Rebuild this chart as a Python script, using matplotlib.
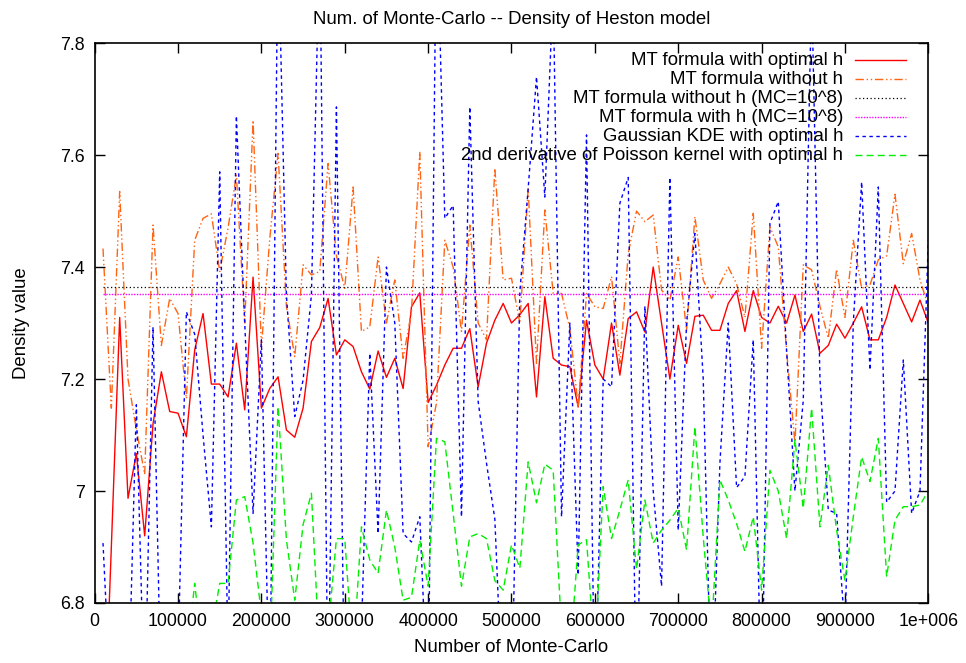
import matplotlib
matplotlib.use("Agg")
import matplotlib.pyplot as plt
from matplotlib.lines import Line2D

plt.rcParams['font.family'] = ['Liberation Sans', 'DejaVu Sans']

mc_sizes = list(range(10000, 1000001, 10000))

mt_opt_h = [6.5, 6.9, 7.31, 6.987, 7.067, 6.92, 7.12, 7.213, 7.142, 7.139,
            7.097, 7.252, 7.317, 7.191, 7.191, 7.168, 7.264, 7.145, 7.382, 7.148,
            7.183, 7.204, 7.109, 7.096, 7.148, 7.267, 7.292, 7.344, 7.243, 7.27,
            7.258, 7.213, 7.182, 7.25, 7.203, 7.237, 7.183, 7.329, 7.354, 7.158,
            7.189, 7.225, 7.255, 7.255, 7.29, 7.186, 7.264, 7.305, 7.335, 7.30,
            7.315, 7.335, 7.168, 7.347, 7.237, 7.225, 7.222, 7.15, 7.305, 7.225,
            7.2, 7.3, 7.207, 7.308, 7.32, 7.284, 7.4, 7.30, 7.2, 7.296,
            7.228, 7.312, 7.314, 7.287, 7.287, 7.335, 7.358, 7.285, 7.358, 7.31,
            7.3, 7.33, 7.3, 7.35, 7.285, 7.316, 7.246, 7.26, 7.298, 7.273,
            7.3, 7.329, 7.27, 7.27, 7.31, 7.368, 7.335, 7.302, 7.341, 7.3]

mt_no_h = [7.433, 7.148, 7.535, 7.2, 7.11, 7.03, 7.475, 7.26, 7.344, 7.317,
           7.165, 7.448, 7.487, 7.495, 7.392, 7.47, 7.564, 7.3, 7.662, 7.257,
           7.45, 7.603, 7.33, 7.24, 7.404, 7.386, 7.392, 7.585, 7.42, 7.362,
           7.543, 7.285, 7.293, 7.418, 7.3, 7.377, 7.237, 7.32, 7.606, 7.079,
           7.157, 7.448, 7.4, 7.285, 7.475, 7.3, 7.27, 7.576, 7.377, 7.38,
           7.3, 7.54, 7.228, 7.502, 7.353, 7.353, 7.29, 7.15, 7.353, 7.329,
           7.326, 7.383, 7.228, 7.424, 7.5, 7.481, 7.493, 7.359, 7.341, 7.418,
           7.287, 7.49, 7.377, 7.344, 7.37, 7.4, 7.37, 7.31, 7.496, 7.255,
           7.472, 7.436, 7.25, 7.085, 7.404, 7.395, 7.33, 7.273, 7.396, 7.31,
           7.448, 7.362, 7.368, 7.413, 7.42, 7.53, 7.406, 7.46, 7.377, 7.33]

mt_no_h_1e8 = 7.365
mt_h_1e8 = 7.352

gauss_kde = [6.907, 6.6, 6.5, 6.6, 7.154, 6.6, 7.293, 6.6, 6.7, 6.7,
             7.32, 7.28, 7.1, 6.936, 7.57, 6.7, 7.67, 7.3, 6.96, 7.27,
             6.6, 8.0, 7.35, 7.133, 7.198, 7.35, 8.0, 6.6, 7.686, 6.6,
             6.6, 6.75, 7.246, 6.924, 7.4, 7.3, 6.924, 6.909, 6.954, 6.6,
             8.05, 7.487, 7.51, 6.954, 7.686, 7.16, 7.05, 6.95, 6.6, 6.6,
             7.355, 7.54, 7.74, 7.525, 7.9, 6.954, 7.3, 6.85, 7.636, 6.6,
             7.2, 7.186, 7.514, 7.56, 6.6, 7.33, 7.0, 6.83, 7.56, 6.93,
             7.3, 7.46, 7.2, 6.6, 7.05, 7.3, 7.006, 7.026, 7.27, 6.6,
             7.478, 7.517, 7.25, 7.0, 7.162, 7.9, 7.2, 6.966, 6.96, 6.75,
             7.3, 7.552, 7.216, 7.543, 6.98, 7.0, 7.234, 6.96, 7.0, 7.448]

poisson_2nd = [6.6, 6.55, 6.65, 6.6, 6.7, 6.6, 6.65, 6.7, 6.6, 6.65,
               6.7, 6.835, 6.7, 6.75, 6.835, 6.835, 6.984, 6.99, 6.907, 6.78,
               6.7, 7.151, 6.913, 6.805, 6.94, 6.996, 6.7, 6.75, 6.915, 6.915,
               6.7, 6.936, 6.877, 6.853, 6.966, 6.9, 6.805, 6.81, 6.912, 6.83,
               7.094, 7.088, 6.96, 6.83, 6.918, 6.924, 6.915, 6.84, 6.823, 6.904,
               6.862, 7.052, 6.979, 7.048, 7.037, 6.75, 6.7, 6.904, 6.913, 6.7,
               7.008, 6.915, 6.966, 7.02, 6.86, 6.984, 6.907, 6.93, 6.948, 6.969,
               6.895, 7.115, 6.918, 6.75, 7.02, 6.984, 6.942, 6.892, 6.954, 6.823,
               7.037, 7.0, 6.915, 7.091, 6.969, 7.148, 6.936, 7.046, 6.93, 6.84,
               6.954, 7.061, 7.017, 7.094, 6.847, 6.948, 6.972, 6.972, 6.975, 7.0]

labels = ["MT formula with optimal h",
          "MT formula without h",
          "MT formula without h (MC=10^8)",
          "MT formula with h (MC=10^8)",
          "Gaussian KDE with optimal h",
          "2nd derivative of Poisson kernel with optimal h"]

xticks = [0, 100000, 200000, 300000, 400000, 500000, 600000, 700000, 800000, 900000, 1000000]
xticklabels = ["0", "100000", "200000", "300000", "400000", "500000", "600000",
               "700000", "800000", "900000", "1e+006"]
yticks = [6.8, 7.0, 7.2, 7.4, 7.6, 7.8]
yticklabels = ["6.8", "7", "7.2", "7.4", "7.6", "7.8"]

styles = [
    dict(color='#ff0000', lw=1.0, linestyle='-'),
    dict(color='#ff6414', lw=1.0, linestyle=(0, (6, 2, 1, 2, 1, 2))),
    dict(color='#000000', lw=0.9, linestyle=(0, (1, 2))),
    dict(color='#ff00ff', lw=1.0, linestyle=(0, (1, 1))),
    dict(color='#0000ff', lw=1.0, linestyle=(0, (2.5, 2.5))),
    dict(color='#00ee00', lw=1.0, linestyle=(0, (5, 3))),
]

FS = 13.4

fig = plt.figure(figsize=(9.66, 6.63), dpi=100)
ax = fig.add_axes([0.098, 0.0905, 0.863, 0.8445])

n = len(mc_sizes)
series = [mt_opt_h, mt_no_h, [mt_no_h_1e8] * n, [mt_h_1e8] * n, gauss_kde, poisson_2nd]
for data, st in zip(series, styles):
    ax.plot(mc_sizes, data, **st)

ax.set_xlim(0, 1000000)
ax.set_ylim(6.8, 7.8)
ax.set_xticks(xticks)
ax.set_xticklabels(xticklabels)
ax.set_yticks(yticks)
ax.set_yticklabels(yticklabels)
ax.tick_params(direction='in', length=7, width=1, top=True, right=True,
               labelsize=12.8, pad=7)
for s in ax.spines.values():
    s.set_linewidth(1.2)

ax.set_title("Num. of Monte-Carlo -- Density of Heston model", fontsize=FS, pad=14)
ax.set_xlabel("Number of Monte-Carlo", fontsize=FS, labelpad=7)
ax.set_ylabel("Density value", fontsize=FS, labelpad=22)

# gnuplot-style key: right-aligned text, sample on the right
y0 = 0.969
dy = 0.0338
for i, (lab, st) in enumerate(zip(labels, styles)):
    y = y0 - i * dy
    ax.text(0.898, y, lab, transform=ax.transAxes, ha='right', va='center', fontsize=FS)
    ax.add_line(Line2D([0.912, 0.973], [y, y], transform=ax.transAxes, **st))

fig.savefig("out.png", dpi=100)
